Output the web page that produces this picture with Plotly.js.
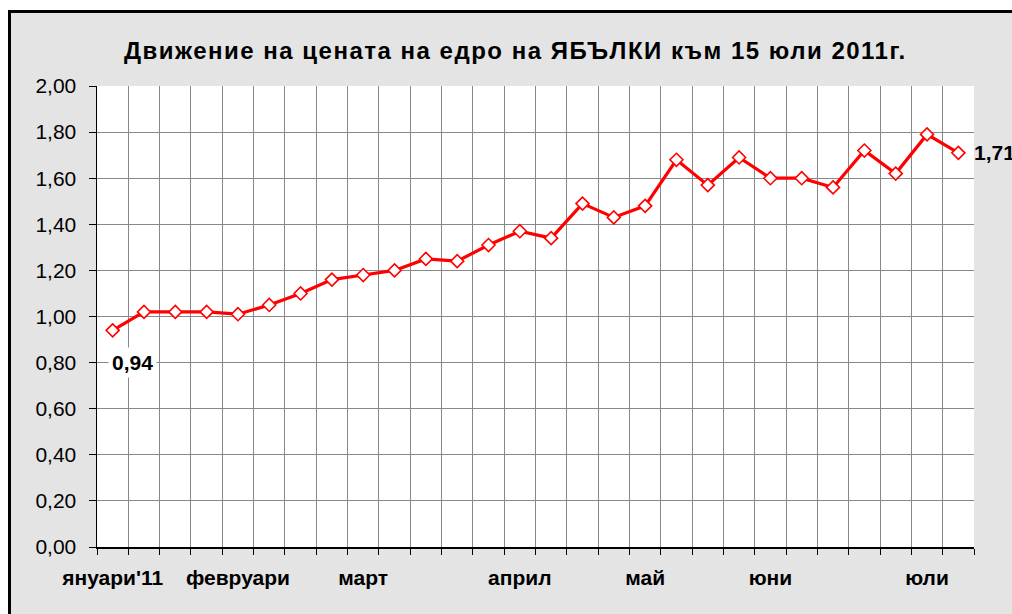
<!DOCTYPE html>
<html>
<head>
<meta charset="utf-8">
<script src="https://cdn.plot.ly/plotly-3.0.1.min.js"></script>
<style>
  html, body { margin: 0; padding: 0; background: #ffffff; width: 1012px; height: 614px; overflow: hidden; }
  #frame { position: absolute; left: 8px; top: 10px; width: 1100px; height: 700px; border: 3px solid #000; background: #e4e4e4; }
  #chart { position: absolute; left: 0; top: 0; width: 1012px; height: 614px; }
  #chart .gtitle { letter-spacing: 1.5px; }
</style>
</head>
<body>
<div id="frame"></div>
<div id="chart"></div>
<script>
// Weekly wholesale price of apples (лв/кг), Jan - mid July 2011
const prices = [0.94, 1.02, 1.02, 1.02, 1.01, 1.05, 1.10, 1.16, 1.18, 1.20,
                1.25, 1.24, 1.31, 1.37, 1.34, 1.49, 1.43, 1.48, 1.68, 1.57,
                1.69, 1.60, 1.60, 1.56, 1.72, 1.62, 1.79, 1.71];
const monthLabels = ["януари'11", "февруари", "март", "април", "май", "юни", "юли"];
const monthWeekIdx = [1, 5, 9, 14, 18, 22, 27];
const yTicks = [0, 0.2, 0.4, 0.6, 0.8, 1.0, 1.2, 1.4, 1.6, 1.8, 2.0];
const titleText = "Движение на цената на едро на ЯБЪЛКИ към 15 юли 2011г.";

const weeks = prices.map((_, i) => i + 1);
const n = prices.length;
const fmt = v => v.toFixed(2).replace('.', ',');

const trace = {
  x: weeks,
  y: prices,
  type: 'scatter',
  mode: 'lines+markers',
  line: { color: '#ff0000', width: 3.2 },
  marker: { symbol: 'diamond', size: 10, color: '#ffffff', line: { color: '#ff0000', width: 1.6 } },
  hoverinfo: 'skip'
};

const layout = {
  width: 1012, height: 614,
  margin: { l: 97, r: 38, t: 86, b: 67 },
  paper_bgcolor: 'rgba(0,0,0,0)',
  plot_bgcolor: '#ffffff',
  showlegend: false,
  separators: ', ',
  font: { family: 'Liberation Sans, Arial, sans-serif', color: '#000' },
  title: {
    text: '<b>' + titleText + '</b>',
    font: { size: 24, color: '#000' },
    x: 0.477, xanchor: 'center', xref: 'paper',
    y: 0.918, yanchor: 'middle', yref: 'container'
  },
  xaxis: {
    range: [0.5, n + 0.5],
    tickmode: 'array',
    tickvals: monthWeekIdx,
    ticktext: monthLabels.map(s => '<b>' + s + '</b>'),
    ticks: '',
    showgrid: false,
    zeroline: false,
    showline: true, linecolor: '#000', linewidth: 1.5,
    tickfont: { size: 21, color: '#000' },
    ticklabelstandoff: 11,
    minor: {
      tickmode: 'linear', tick0: 0.5, dtick: 1,
      ticks: 'outside', ticklen: 6, tickwidth: 1, tickcolor: '#000',
      showgrid: true, gridcolor: '#888888', gridwidth: 1
    },
    fixedrange: true
  },
  yaxis: {
    range: [0, 2],
    tickmode: 'array',
    tickvals: yTicks,
    ticktext: yTicks.map(fmt),
    ticks: 'outside', ticklen: 7, tickwidth: 1, tickcolor: '#000',
    showgrid: true, gridcolor: '#888888', gridwidth: 1,
    zeroline: false,
    showline: true, linecolor: '#000', linewidth: 1.5,
    tickfont: { size: 21, color: '#000' },
    ticklabelstandoff: 8,
    fixedrange: true
  },
  annotations: [
    {
      x: 1, y: prices[0], xref: 'x', yref: 'y',
      text: '<b>' + fmt(prices[0]) + '</b>', showarrow: false,
      xanchor: 'center', yanchor: 'middle', xshift: 20, yshift: -32,
      bgcolor: '#ffffff', font: { size: 21, color: '#000' }, borderpad: 3
    },
    {
      x: n, y: prices[n - 1], xref: 'x', yref: 'y',
      text: '<b>' + fmt(prices[n - 1]) + '</b>', showarrow: false,
      xanchor: 'left', yanchor: 'middle', xshift: 14, yshift: 0,
      font: { size: 21, color: '#000' }
    }
  ]
};

Plotly.newPlot('chart', [trace], layout, { staticPlot: true, displayModeBar: false });
</script>
</body>
</html>
